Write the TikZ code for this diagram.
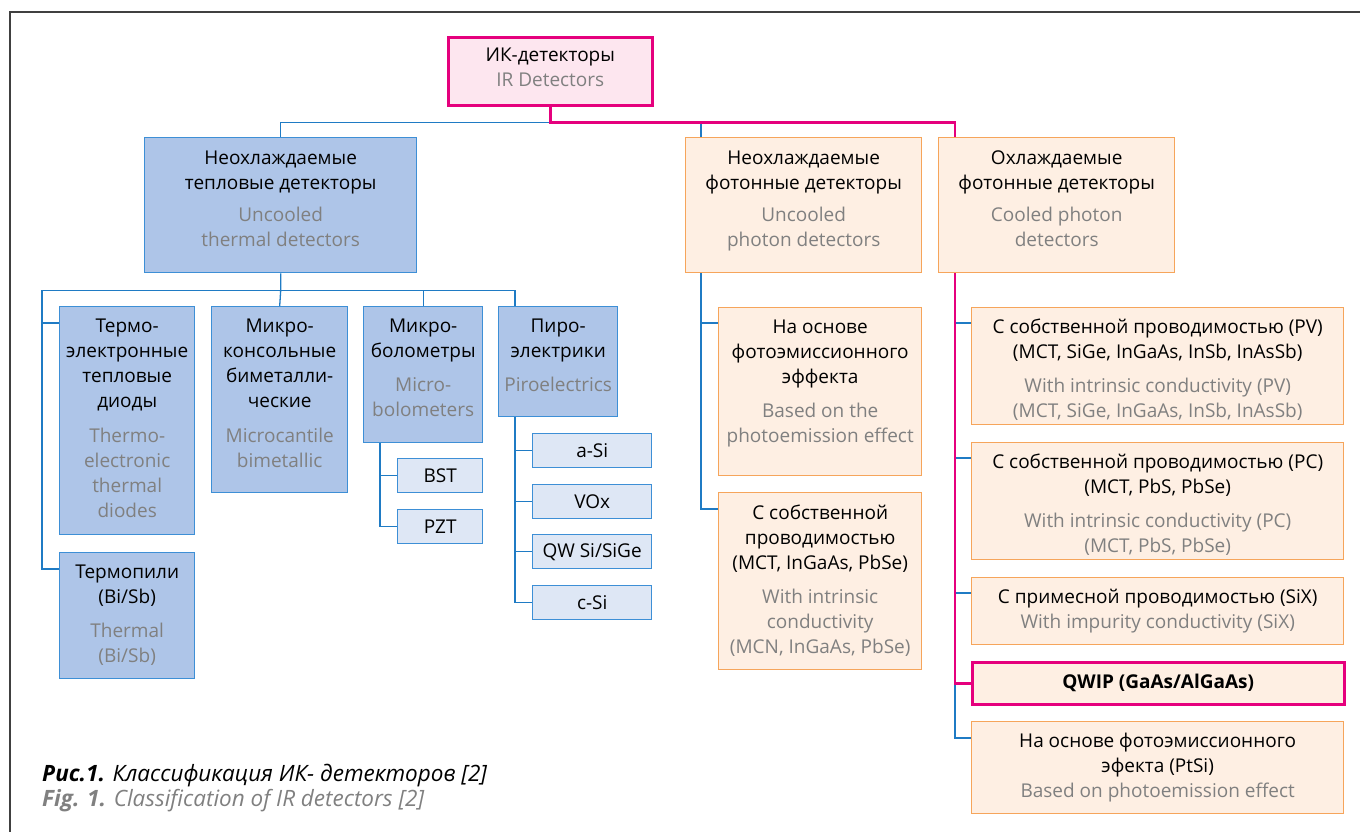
\documentclass[tikz,border=0pt]{standalone}
\usepackage{fontspec}
\setmainfont{Open Sans}
\usetikzlibrary{positioning}

\definecolor{irpink}{RGB}{229,0,125}
\definecolor{rootfill}{RGB}{253,230,239}
\definecolor{thermfill}{RGB}{174,197,232}
\definecolor{thermline}{RGB}{61,143,214}
\definecolor{subfill}{RGB}{222,231,245}
\definecolor{photfill}{RGB}{254,239,227}
\definecolor{photline}{RGB}{246,165,91}
\definecolor{linkblue}{RGB}{31,123,196}
\definecolor{engray}{RGB}{128,128,128}
\definecolor{framegray}{RGB}{64,64,64}

\begin{document}
\begin{tikzpicture}[x=1pt, y=-1pt,
      base/.style={anchor=north west, inner sep=0pt, line width=1.4pt, align=center, font=\fontsize{19}{25}\selectfont},
      rootbox/.style={base, draw=irpink, fill=rootfill, line width=2.6pt},
      thermbox/.style={base, draw=thermline, fill=thermfill},
      subbox/.style={base, draw=thermline, fill=subfill},
      photbox/.style={base, draw=photline, fill=photfill},
      txt/.style={inner sep=0pt, align=center, font=\fontsize{19}{25}\selectfont},
      bluelink/.style={draw=linkblue, line width=1.3pt},
      pinklink/.style={draw=irpink, line width=2.6pt}
    ]
      \useasboundingbox (0,0) rectangle (1360,832);

      % Frame (left and top edges only)
      \draw[framegray, line width=2pt] (10,832) |- (1360,12);

      % Root
      \node[rootbox, minimum width=204pt, minimum height=68pt] (root) at (447,36) {};
      \node[txt, below=12pt of root.north] (root-t) {ИК-детекторы\\\textcolor{engray}{IR Detectors}};

      % First level
      \node[thermbox, minimum width=272pt, minimum height=135pt] (therm) at (144,137) {};
      \node[photbox, minimum width=236pt, minimum height=135pt] (uphot) at (685,137) {};
      \node[photbox, minimum width=236pt, minimum height=135pt] (cphot) at (938,137) {};
      \node[txt, below=13.5pt of therm.north] (therm-t) {Неохлаждаемые\\тепловые детекторы\\[7pt]\textcolor{engray}{Uncooled}\\\textcolor{engray}{thermal detectors}};
      \node[txt, below=13.5pt of uphot.north] (uphot-t) {Неохлаждаемые\\фотонные детекторы\\[7pt]\textcolor{engray}{Uncooled}\\\textcolor{engray}{photon detectors}};
      \node[txt, below=13.5pt of cphot.north] (cphot-t) {Охлаждаемые\\фотонные детекторы\\[7pt]\textcolor{engray}{Cooled photon}\\\textcolor{engray}{detectors}};

      % Thermal detectors
      \node[thermbox, minimum width=135pt, minimum height=228pt] (diod) at (59,306) {};
      \node[thermbox, minimum width=136pt, minimum height=186pt] (cant) at (211,306) {};
      \node[thermbox, minimum width=119pt, minimum height=136pt] (bolo) at (363,306) {};
      \node[thermbox, minimum width=119pt, minimum height=110pt] (pyro) at (498,306) {};
      \node[thermbox, minimum width=135pt, minimum height=126pt] (pile) at (59,552) {};
      \node[txt, below=13pt of diod.north] (diod-t) {Термо-\\электронные\\тепловые\\диоды\\[10pt]\textcolor{engray}{Thermo-}\\\textcolor{engray}{electronic}\\\textcolor{engray}{thermal}\\\textcolor{engray}{diodes}};
      \node[txt, below=13pt of cant.north] (cant-t) {Микро-\\консольные\\биметалли-\\ческие\\[10pt]\textcolor{engray}{Microcantile}\\\textcolor{engray}{bimetallic}};
      \node[txt, below=13pt of bolo.north] (bolo-t) {Микро-\\болометры\\[9pt]\textcolor{engray}{Micro-}\\\textcolor{engray}{bolometers}};
      \node[txt, below=13pt of pyro.north] (pyro-t) {Пиро-\\электрики\\[9pt]\textcolor{engray}{Piroelectrics}};
      \node[txt, below=13pt of pile.north] (pile-t) {Термопили\\(Bi/Sb)\\[9pt]\textcolor{engray}{Thermal}\\\textcolor{engray}{(Bi/Sb)}};

      % Materials
      \node[subbox, minimum width=85pt, minimum height=34pt] (bst) at (397,458) {BST};
      \node[subbox, minimum width=85pt, minimum height=34pt] (pzt) at (397,509) {PZT};
      \node[subbox, minimum width=119pt, minimum height=34pt] (asi) at (532,433) {a-Si};
      \node[subbox, minimum width=119pt, minimum height=34pt] (vox) at (532,484) {VOx};
      \node[subbox, minimum width=119pt, minimum height=34pt] (qw) at (532,534) {QW Si/SiGe};
      \node[subbox, minimum width=119pt, minimum height=34pt] (csi) at (532,585) {c-Si};

      % Uncooled photon detectors
      \node[photbox, minimum width=203pt, minimum height=168pt] (femi) at (718,307) {};
      \node[photbox, minimum width=203pt, minimum height=177pt] (intr) at (718,492) {};
      \node[txt, below=12.5pt of femi.north] (femi-t) {На основе\\фотоэмиссионного\\эффекта\\[9pt]\textcolor{engray}{Based on the}\\\textcolor{engray}{photoemission effect}};
      \node[txt, below=12.5pt of intr.north] (intr-t) {С собственной\\проводимостью\\(MCT, InGaAs, PbSe)\\[9pt]\textcolor{engray}{With intrinsic}\\\textcolor{engray}{conductivity}\\\textcolor{engray}{(MCN, InGaAs, PbSe)}};

      % Cooled photon detectors
      \node[photbox, minimum width=372pt, minimum height=117pt] (pv) at (971,307) {};
      \node[photbox, minimum width=372pt, minimum height=117pt] (pc) at (971,442) {};
      \node[photbox, minimum width=372pt, minimum height=67pt] (six) at (971,577) {};
      \node[photbox, draw=irpink, line width=2.6pt, minimum width=372pt, minimum height=42pt, font=\fontsize{19}{25}\selectfont\bfseries] (qwip) at (971,661) {QWIP (GaAs/AlGaAs)};
      \node[photbox, minimum width=372pt, minimum height=92pt] (ptsi) at (971,721) {};
      \node[txt, below=11.5pt of pv.north] (pv-t) {С собственной проводимостью (PV)\\(MCT, SiGe, InGaAs, InSb, InAsSb)\\[9pt]\textcolor{engray}{With intrinsic conductivity (PV)}\\\textcolor{engray}{(MCT, SiGe, InGaAs, InSb, InAsSb)}};
      \node[txt, below=11.5pt of pc.north] (pc-t) {С собственной проводимостью (PC)\\(MCT, PbS, PbSe)\\[9pt]\textcolor{engray}{With intrinsic conductivity (PC)}\\\textcolor{engray}{(MCT, PbS, PbSe)}};
      \node[txt, below=11.5pt of six.north] (six-t) {С примесной проводимостью (SiX)\\\textcolor{engray}{With impurity conductivity (SiX)}};
      \node[txt, below=11.5pt of ptsi.north] (ptsi-t) {На основе фотоэмиссионного\\эфекта (PtSi)\\\textcolor{engray}{Based on photoemission effect}};

      % Connectors from the root
      \coordinate (split) at ([yshift=-16pt]root.south);
      \coordinate (uphot-top) at ([xshift=16pt]uphot.north west);
      \coordinate (cphot-top) at ([xshift=17pt]cphot.north west);
      \draw[bluelink] (split) -| (therm.north);
      \draw[bluelink] (uphot-top |- split) -- (uphot-top);
      \draw[pinklink] (root.south) -- (split) -| (cphot-top);

      % Thermal branch
      \coordinate (tbus) at ([yshift=-17pt]therm.south);
      \coordinate (lrail) at ([xshift=-17pt]diod.north west);
      \coordinate (pstem) at ([xshift=17pt]pyro.north west);
      \draw[bluelink] (therm.south) -- (tbus) -- (cant.north);
      \draw[bluelink] (lrail |- tbus) -- (pstem |- tbus) -- (pstem);
      \draw[bluelink] (bolo.north |- tbus) -- (bolo.north);
      \draw[bluelink] (lrail |- tbus) |- ([yshift=-17pt]pile.north west);
      \draw[bluelink] (lrail |- diod.north) ++(0,17) -- ([yshift=-17pt]diod.north west);

      % Materials branches
      \coordinate (brail) at ([xshift=17pt]bolo.south west);
      \coordinate (prail) at ([xshift=17pt]pyro.south west);
      \draw[bluelink] (brail) |- (pzt.west);
      \draw[bluelink] (brail |- bst.west) -- (bst.west);
      \draw[bluelink] (prail) |- (csi.west);
      \foreach \m in {asi, vox, qw} {
        \draw[bluelink] (prail |- \m.west) -- (\m.west);
      }

      % Uncooled photon branch
      \coordinate (urail) at (uphot-top |- uphot.south);
      \draw[bluelink] (urail) |- ([yshift=-17pt]intr.north west);
      \draw[bluelink] (urail |- femi.north) ++(0,16) -- ([yshift=-16pt]femi.north west);

      % Cooled photon branch
      \coordinate (crail) at (cphot-top |- cphot.south);
      \foreach \m in {pv, pc, six} {
        \draw[bluelink] ([yshift=-16pt]\m.north west -| crail) -- ([yshift=-16pt]\m.north west);
      }
      \draw[bluelink] (crail |- qwip.west) |- ([yshift=-17pt]ptsi.north west);
      \draw[pinklink] (crail) |- (qwip.west);

      % Caption
      \node[anchor=base west, inner sep=0pt, font=\fontsize{22.5}{25}\selectfont\itshape] (cap-ru) at (42,781) {\textbf{Рис.1.} Классификация ИК- детекторов [2]};
      \node[anchor=base west, inner sep=0pt, font=\fontsize{22.5}{25}\selectfont\itshape, text=engray] (cap-en) at (42,806) {\textbf{Fig. 1.} Classification of IR detectors [2]};
    \end{tikzpicture}
\end{document}
